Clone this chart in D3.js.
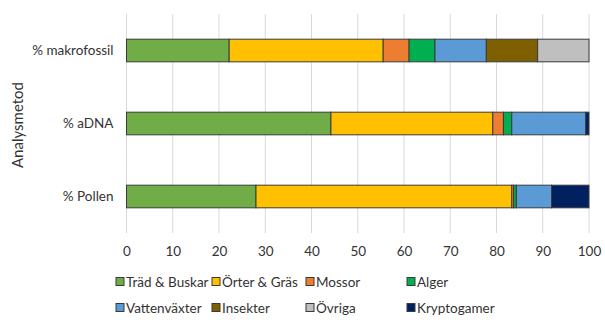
<!DOCTYPE html>
<html>
<head>
<meta charset="utf-8">
<script src="https://cdn.jsdelivr.net/npm/d3@7"></script>
<style>
  body { margin: 0; background: #fff; }
  svg { display: block; font-family: Lato, "Liberation Sans", sans-serif; }
</style>
</head>
<body>
<svg id="chart" width="605" height="320"></svg>
<script>
// Analysis methods (top to bottom)
const methods = ["% makrofossil", "% aDNA", "% Pollen"];

// Organism groups, in stacking order
const groups = ["Träd & Buskar", "Örter & Gräs", "Mossor", "Alger",
                "Vattenväxter", "Insekter", "Övriga", "Kryptogamer"];

const groupColors = ["#70AD47", "#FFC000", "#ED7D31", "#00B050",
                     "#5B9BD5", "#7F6000", "#BFBFBF", "#002060"];

// Percentage share of each group, per method
const makrofossil = [22.2, 33.3, 5.6, 5.6, 11.1, 11.1, 11.1, 0];
const aDNA        = [44.2, 35.0, 2.3, 1.8, 16.0, 0, 0, 0.7];
const pollen      = [28.0, 55.3, 0.4, 0.6, 7.6, 0, 0, 8.1];

const xTicks = [0, 10, 20, 30, 40, 50, 60, 70, 80, 90, 100];

const seriesByMethod = [makrofossil, aDNA, pollen];

const rows = methods.map((m, i) => {
  const row = { method: m };
  groups.forEach((g, j) => { row[g] = seriesByMethod[i][j]; });
  return row;
});

const svg = d3.select("#chart");

const x = d3.scaleLinear().domain([0, 100]).range([126.5, 589]);
const y = d3.scaleBand().domain(methods).range([14, 233])
  .paddingInner(0.69).paddingOuter(0.345);
const color = d3.scaleOrdinal().domain(groups).range(groupColors);

// vertical gridlines
svg.append("g")
  .selectAll("line")
  .data(xTicks)
  .join("line")
  .attr("x1", d => x(d)).attr("x2", d => x(d))
  .attr("y1", 14).attr("y2", 233)
  .attr("stroke", "#d9d9d9").attr("stroke-width", 1);

// stacked bars
const stack = d3.stack().keys(groups)(rows);
svg.append("g")
  .selectAll("g")
  .data(stack)
  .join("g")
  .attr("fill", d => color(d.key))
  .selectAll("rect")
  .data(d => d.filter(p => p[1] - p[0] > 0))
  .join("rect")
  .attr("x", d => x(d[0]))
  .attr("width", d => x(d[1]) - x(d[0]))
  .attr("y", d => y(d.data.method))
  .attr("height", y.bandwidth())
  .attr("stroke", "#3a3a3a")
  .attr("stroke-width", 1);

// x axis labels
const xAxis = svg.append("g")
  .attr("transform", "translate(0,233)")
  .call(d3.axisBottom(x).tickValues(xTicks).tickSize(0).tickPadding(13));
xAxis.select(".domain").remove();
xAxis.selectAll("text")
  .attr("font-family", "Lato, 'Liberation Sans', sans-serif")
  .attr("font-size", 13.5).attr("fill", "#333");

// y axis labels
const yAxis = svg.append("g")
  .attr("transform", "translate(126.5,0)")
  .call(d3.axisLeft(y).tickSize(0).tickPadding(13));
yAxis.select(".domain").remove();
yAxis.selectAll("text")
  .attr("font-family", "Lato, 'Liberation Sans', sans-serif")
  .attr("font-size", 13.5).attr("fill", "#333");

// y axis title
svg.append("text")
  .attr("transform", "translate(23,125) rotate(-90)")
  .attr("text-anchor", "middle")
  .attr("font-size", 15).attr("fill", "#333")
  .text("Analysmetod");

// legend
const legendCols = [116, 212, 306, 407];
const legendRows = [282, 308];
const legend = svg.append("g")
  .selectAll("g")
  .data(groups)
  .join("g")
  .attr("transform", (d, i) =>
    `translate(${legendCols[i % 4]},${legendRows[Math.floor(i / 4)]})`);
legend.append("rect")
  .attr("x", 0).attr("y", -4.5).attr("width", 8).attr("height", 8)
  .attr("fill", d => color(d))
  .attr("stroke", "#3a3a3a").attr("stroke-width", 1);
legend.append("text")
  .attr("x", 10).attr("y", 0).attr("dy", "0.35em")
  .attr("font-size", 13.5).attr("fill", "#333")
  .text(d => d);
</script>
</body>
</html>
